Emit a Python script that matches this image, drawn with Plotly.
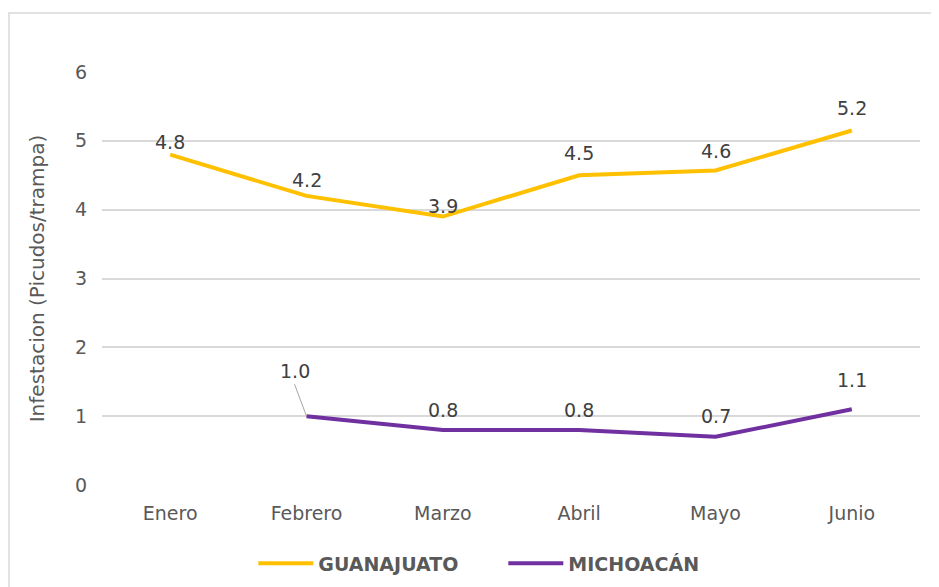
import plotly.graph_objects as go

months = ["Enero", "Febrero", "Marzo", "Abril", "Mayo", "Junio"]
guanajuato = [4.8, 4.2, 3.9, 4.5, 4.57, 5.15]
guanajuato_labels = ["4.8", "4.2", "3.9", "4.5", "4.6", "5.2"]
michoacan = [None, 1.0, 0.8, 0.8, 0.7, 1.1]
michoacan_labels = ["1.0", "0.8", "0.8", "0.7", "1.1"]
y_ticks = [0, 1, 2, 3, 4, 5, 6]

# label offsets (pixels above the point), as placed in the original
g_shift = [13, 16, 11, 22, 19, 23]
m_shift = [None, 20, 20, 21, 29]

FONT = "DejaVu Sans"
GREY = "#595959"
LBL = "#404040"
FS = 19
L, R, T, B = 94, 27, 64, 110
PW, PH = 939 - L - R, 587 - T - B

fig = go.Figure()
fig.add_trace(go.Scatter(
    x=months, y=guanajuato, name="GUANAJUATO", mode="lines",
    line=dict(color="#FFC000", width=4), cliponaxis=False,
))
fig.add_trace(go.Scatter(
    x=months, y=michoacan, name="MICHOACÁN", mode="lines",
    line=dict(color="#7030A0", width=4), cliponaxis=False,
))

for m, v, t, s in zip(months, guanajuato, guanajuato_labels, g_shift):
    fig.add_annotation(x=m, y=v, text=t, showarrow=False, yshift=s,
                       font=dict(size=FS, color=LBL, family=FONT))

m_pts = [(m, v) for m, v in zip(months, michoacan) if v is not None]
for i, ((m, v), t) in enumerate(zip(m_pts, michoacan_labels)):
    if i == 0:
        fig.add_annotation(x=m, y=v, text=t, showarrow=True,
                           arrowhead=0, arrowwidth=1, arrowcolor="#A6A6A6",
                           ax=-12, ay=-32, standoff=0, yanchor="bottom",
                           font=dict(size=FS, color=LBL, family=FONT))
    else:
        fig.add_annotation(x=m, y=v, text=t, showarrow=False, yshift=m_shift[i],
                           font=dict(size=FS, color=LBL, family=FONT))

fig.add_shape(type="rect", xref="paper", yref="paper",
              x0=-(L - 1) / PW, x1=1.2, y0=-0.5, y1=1 + (T - 5) / PH,
              line=dict(color="#D9D9D9", width=1.5), layer="below")

fig.update_layout(
    width=939, height=587,
    margin=dict(l=L, r=R, t=T, b=B),
    paper_bgcolor="white", plot_bgcolor="white",
    font=dict(family=FONT, color=GREY, size=FS),
    showlegend=True,
    legend=dict(orientation="h", x=0.185, xanchor="left", y=-0.19, yanchor="middle",
                font=dict(size=FS, color=GREY, family=FONT, weight="bold"),
                itemwidth=55, entrywidth=180, entrywidthmode="pixels",
                traceorder="normal"),
    xaxis=dict(range=[-0.5, 5.5], showgrid=False, showline=False, zeroline=False, ticks="",
               tickfont=dict(size=FS, color=GREY), ticklabelstandoff=15),
    yaxis=dict(range=[0, 6], tickvals=y_ticks, showgrid=True, gridcolor="#D9D9D9",
               gridwidth=2, zeroline=False, showline=False, ticks="",
               tickfont=dict(size=FS, color=GREY), ticklabelstandoff=14,
               title=dict(text="Infestacion (Picudos/trampa)", font=dict(size=20, color=GREY), standoff=24)),
)

fig.write_html("out.html")
